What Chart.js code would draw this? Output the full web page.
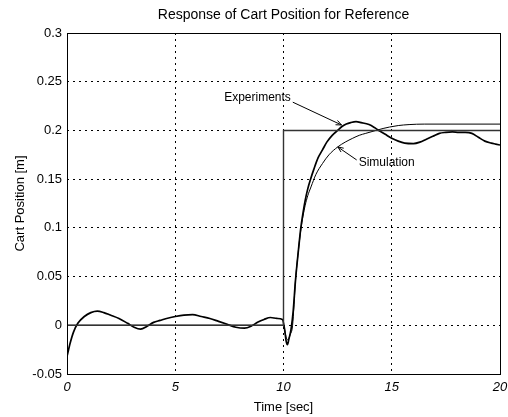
<!DOCTYPE html>
<html>
<head>
<meta charset="utf-8">
<script src="https://cdn.jsdelivr.net/npm/chart.js@4.4.1/dist/chart.umd.min.js"></script>
<style>
  html, body { margin: 0; padding: 0; background: #fff; }
  #wrap { width: 508px; height: 417px; }
</style>
</head>
<body>
<div id="wrap"><canvas id="c" width="508" height="417"></canvas></div>
<script>
// ---- data ----
const chartTitle = 'Response of Cart Position for Reference';
const xTitle = 'Time [sec]';
const yTitle = 'Cart Position [m]';
const xTicks = [0, 5, 10, 15, 20];
const yTicks = [-0.05, 0, 0.05, 0.1, 0.15, 0.2, 0.25, 0.3];
const yTickLabels = ['-0.05', '0', '0.05', '0.1', '0.15', '0.2', '0.25', '0.3'];

// reference (step command)
const refT = [0, 10, 10, 20];
const refY = [0, 0, 0.2, 0.2];

// experiments
const expT = [0, 0.15, 0.3, 0.5, 0.8, 1.1, 1.4, 1.7, 2.0, 2.4, 2.8, 3.1, 3.4, 3.7, 4.0, 4.3, 4.6, 5.0, 5.4, 5.8,
  6.2, 6.6, 7.0, 7.4, 7.8, 8.2, 8.5, 8.8, 9.1, 9.4, 9.7, 9.95, 10.05, 10.12, 10.18, 10.25, 10.35, 10.45, 10.55, 10.68,
  10.8, 10.9, 11.0, 11.12, 11.25, 11.4, 11.6, 11.8, 12.0, 12.25, 12.5, 12.7, 12.9, 13.1, 13.35, 13.6, 13.95, 14.2, 14.4, 14.7,
  15.0, 15.3, 15.6, 16.0, 16.3, 16.6, 16.9, 17.2, 17.5, 17.8, 18.1, 18.4, 18.7, 19.0, 19.3, 19.6, 19.8, 20];
const expY = [-0.032, -0.018, -0.007, 0.002, 0.009, 0.013, 0.0145, 0.013, 0.0105, 0.007, 0.002, -0.002, -0.004, -0.001, 0.003, 0.005, 0.007, 0.009, 0.0105, 0.011,
  0.009, 0.007, 0.004, 0.001, -0.002, -0.003, -0.001, 0.003, 0.006, 0.008, 0.007, 0.006, -0.004, -0.016, -0.020, -0.014, -0.004, 0.015, 0.045, 0.075,
  0.1, 0.115, 0.128, 0.14, 0.15, 0.16, 0.172, 0.18, 0.188, 0.195, 0.2, 0.204, 0.2065, 0.208, 0.209, 0.208, 0.206, 0.203, 0.2, 0.196,
  0.192, 0.189, 0.187, 0.1865, 0.188, 0.191, 0.194, 0.197, 0.198, 0.1985, 0.198, 0.198, 0.197, 0.193, 0.189, 0.187, 0.186, 0.185];

// simulation
const simT = [0, 10, 10.08, 10.15, 10.22, 10.3, 10.42, 10.55, 10.68, 10.8, 10.9, 11.0, 11.12, 11.27, 11.5, 11.8, 12.1, 12.5,
  12.85, 13.2, 13.5, 13.8, 14.27, 14.6, 14.9, 15.3, 15.8, 16.5, 20];
const simY = [0, 0, -0.008, -0.014, -0.015, -0.01, 0, 0.045, 0.075, 0.098, 0.112, 0.123, 0.133, 0.142, 0.155, 0.166, 0.175, 0.183,
  0.188, 0.192, 0.195, 0.197, 0.2, 0.202, 0.2035, 0.205, 0.206, 0.2065, 0.2065];

// text annotations with arrows (in data units)
const notes = [
  { text: 'Experiments', tx: 10.34, ty: 0.2333, align: 'right', from: [10.43, 0.229], to: [12.68, 0.2056] },
  { text: 'Simulation',  tx: 13.47, ty: 0.1666, align: 'left',  from: [13.38, 0.1697], to: [12.51, 0.183] }
];

const FONT = "'Liberation Sans', Arial, Helvetica, sans-serif";
const pts = (xs, ys) => xs.map((x, i) => ({ x: x, y: ys[i] }));

const frameAndNotes = {
  id: 'frameAndNotes',
  afterDatasetsDraw(chart) {
    const { ctx, chartArea: a, scales: { x, y } } = chart;
    ctx.save();
    ctx.strokeStyle = '#000';
    ctx.lineWidth = 1;
    ctx.strokeRect(Math.round(a.left) + 0.5, Math.round(a.top) + 0.5,
                   Math.round(a.right - a.left), Math.round(a.bottom - a.top));
    ctx.font = '12px ' + FONT;
    ctx.fillStyle = '#000';
    ctx.textBaseline = 'middle';
    notes.forEach(n => {
      ctx.textAlign = n.align;
      ctx.fillText(n.text, x.getPixelForValue(n.tx), y.getPixelForValue(n.ty));
      const x0 = x.getPixelForValue(n.from[0]), y0 = y.getPixelForValue(n.from[1]);
      const x1 = x.getPixelForValue(n.to[0]), y1 = y.getPixelForValue(n.to[1]);
      ctx.beginPath();
      ctx.moveTo(x0, y0); ctx.lineTo(x1, y1);
      const ang = Math.atan2(y1 - y0, x1 - x0), L = 6;
      ctx.moveTo(x1, y1); ctx.lineTo(x1 - L * Math.cos(ang - 0.4), y1 - L * Math.sin(ang - 0.4));
      ctx.moveTo(x1, y1); ctx.lineTo(x1 - L * Math.cos(ang + 0.4), y1 - L * Math.sin(ang + 0.4));
      ctx.lineWidth = 1;
      ctx.stroke();
    });
    ctx.restore();
  }
};

new Chart(document.getElementById('c'), {
  type: 'line',
  data: {
    datasets: [
      { label: 'Reference', data: pts(refT, refY), borderColor: '#333', borderWidth: 1.4, pointRadius: 0, tension: 0 },
      { label: 'Simulation', data: pts(simT, simY), borderColor: '#000', borderWidth: 1, pointRadius: 0, cubicInterpolationMode: 'monotone' },
      { label: 'Experiments', data: pts(expT, expY), borderColor: '#000', borderWidth: 1.7, pointRadius: 0, cubicInterpolationMode: 'monotone' }
    ]
  },
  options: {
    responsive: false,
    animation: false,
    devicePixelRatio: 1,
    layout: { padding: { left: 0, right: 8, top: 0, bottom: 0 } },
    plugins: {
      legend: { display: false },
      tooltip: { enabled: false },
      title: { display: false }
    },
    scales: {
      top: {
        type: 'linear', position: 'top', min: 0, max: 20,
        afterFit: s => { s.height = 33; s.paddingLeft = 0; s.paddingRight = 0; },
        ticks: { display: false },
        grid: { display: false, drawTicks: false },
        border: { display: false },
        title: { display: true, text: chartTitle, color: '#000',
                 font: { family: FONT, size: 14, lineHeight: 1.2 }, padding: { top: 6.6, bottom: 0 } }
      },
      x: {
        type: 'linear', position: 'bottom', min: 0, max: 20,
        afterBuildTicks: s => { s.ticks = xTicks.map(v => ({ value: v })); },
        afterFit: s => { s.height = 43; s.paddingLeft = 0; s.paddingRight = 0; },
        ticks: { color: '#000', padding: 6, maxRotation: 0, autoSkip: false,
                 font: { family: FONT, size: 13, style: 'italic' },
                 callback: v => String(v) },
        grid: { color: '#000', lineWidth: 1, drawTicks: false },
        border: { display: false, dash: [2, 4] },
        title: { display: true, text: xTitle, color: '#000',
                 font: { family: FONT, size: 13, lineHeight: 1.2 }, padding: { top: 0, bottom: 2.2 } }
      },
      y: {
        type: 'linear', min: -0.05, max: 0.3,
        afterBuildTicks: s => { s.ticks = yTicks.map(v => ({ value: v })); },
        afterFit: s => { s.width = 67; s.paddingTop = 0; s.paddingBottom = 0; },
        ticks: { color: '#000', padding: 5, autoSkip: false,
                 font: { family: FONT, size: 13 },
                 callback: (v, i) => yTickLabels[i] },
        grid: { color: '#000', lineWidth: 1, drawTicks: false },
        border: { display: false, dash: [2, 4] },
        title: { display: true, text: yTitle, color: '#000',
                 font: { family: FONT, size: 13, lineHeight: 1.2 }, padding: { top: 12.2, bottom: 0 } }
      }
    }
  },
  plugins: [frameAndNotes]
});
</script>
</body>
</html>
